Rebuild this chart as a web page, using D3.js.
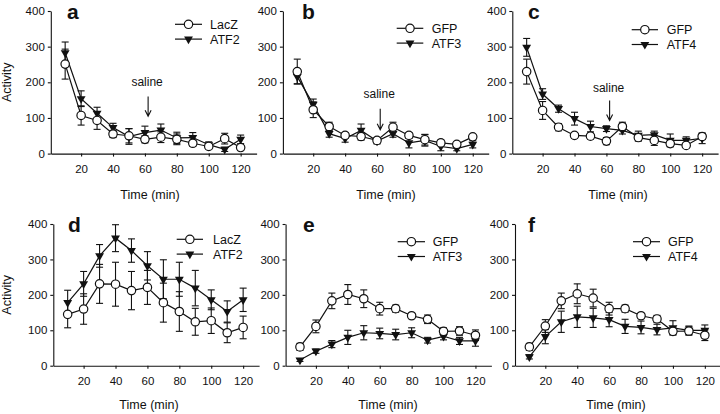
<!DOCTYPE html>
<html>
<head>
<meta charset="utf-8">
<script src="https://cdn.jsdelivr.net/npm/d3@7"></script>
<style>
  body { margin: 0; background: #fff; }
  text { font-family: Arial, "Liberation Sans", sans-serif; fill: #111; }
</style>
</head>
<body>
<svg id="chart" width="720" height="414"></svg>
<script>
// time points (min)
const times = [10, 20, 30, 40, 50, 60, 70, 80, 90, 100, 110, 120];
const xTicks = [20, 40, 60, 80, 100, 120];
const yTicks = [0, 100, 200, 300, 400];

// panel a: LacZ vs ATF2, saline
const aLacZ = [251, 107, 93, 55, 50, 40, 46, 40, 29, 20, 42, 17];
const aLacZErr = [42, 27, 25, 10, 20, 10, 15, 15, 8, 6, 15, 6];
const aATF2 = [283, 154, 113, 73, 48, 59, 66, 44, 45, 25, 12, 40];
const aATF2Err = [30, 22, 17, 12, 22, 18, 17, 16, 14, 8, 6, 12];

// panel b: GFP vs ATF3, saline
const bGFP = [230, 123, 76, 51, 48, 37, 74, 51, 39, 30, 26, 47];
const bGFPErr = [35, 22, 12, 8, 10, 8, 14, 8, 15, 8, 6, 6];
const bATF3 = [216, 138, 56, 42, 65, 35, 56, 30, 37, 20, 14, 26];
const bATF3Err = [20, 15, 10, 10, 18, 8, 10, 14, 16, 12, 6, 10];

// panel c: GFP vs ATF4, saline
const cGFP = [230, 121, 74, 51, 49, 35, 76, 45, 37, 28, 23, 48];
const cGFPErr = [35, 25, 10, 8, 8, 10, 12, 10, 14, 8, 6, 8];
const cATF4 = [298, 167, 126, 98, 76, 70, 65, 51, 53, 37, 37, 43];
const cATF4Err = [25, 15, 10, 18, 15, 8, 10, 12, 10, 18, 10, 15];

// panel d: LacZ vs ATF2
const dLacZ = [145, 160, 231, 230, 212, 221, 178, 153, 124, 127, 93, 108];
const dLacZErr = [38, 43, 55, 62, 54, 48, 55, 56, 38, 36, 28, 32];
const dATF2 = [178, 231, 310, 360, 325, 282, 244, 244, 219, 186, 153, 186];
const dATF2Err = [35, 35, 32, 38, 33, 40, 55, 48, 50, 28, 30, 33];

// panel e: GFP vs ATF3
const eGFP = [53, 111, 183, 201, 189, 161, 161, 141, 131, 97, 98, 86];
const eGFPErr = [10, 18, 22, 28, 25, 18, 10, 6, 12, 10, 12, 15];
const eATF3 = [16, 41, 61, 80, 93, 91, 88, 93, 72, 83, 70, 70];
const eATF3Err = [4, 6, 10, 20, 20, 15, 15, 14, 8, 10, 10, 15];

// panel f: GFP vs ATF4
const fGFP = [53, 112, 183, 203, 191, 161, 161, 141, 132, 97, 98, 86];
const fGFPErr = [10, 18, 22, 28, 25, 18, 10, 6, 10, 10, 12, 15];
const fATF4 = [25, 82, 124, 138, 135, 130, 111, 108, 102, 107, 100, 100];
const fATF4Err = [6, 20, 30, 30, 27, 20, 20, 18, 15, 20, 12, 15];

const svg = d3.select('#chart');

// layout for each panel (pixels)
const rows = [{ bottom: 153.6, top: 11, timeY: 199 }, { bottom: 365.7, top: 224, timeY: 409 }];

const panels = [
    { letter: 'a', row: 0, x0: 49.2, ctrl: aLacZ, ctrlErr: aLacZErr, atf: aATF2, atfErr: aATF2Err,
      names: ['LacZ', 'ATF2'], ylabel: true, timeX: 150, letterX: 67,
      legend: { x1: 175, x2: 202, y: 24.3, tx: 210 }, saline: { tip: 105, top: 160, text: 190 } },
    { letter: 'b', row: 0, x0: 281.3, ctrl: bGFP, ctrlErr: bGFPErr, atf: bATF3, atfErr: bATF3Err,
      names: ['GFP', 'ATF3'], ylabel: false, timeX: 386, letterX: 302,
      legend: { x1: 396.7, x2: 423.3, y: 28.3, tx: 431.7 }, saline: { tip: 67, top: 126, text: 157 } },
    { letter: 'c', row: 0, x0: 510.7, ctrl: cGFP, ctrlErr: cGFPErr, atf: cATF4, atfErr: cATF4Err,
      names: ['GFP', 'ATF4'], ylabel: false, timeX: 618, letterX: 528,
      legend: { x1: 631.7, x2: 658, y: 29.7, tx: 666.7 }, saline: { tip: 93, top: 149, text: 172 } },
    { letter: 'd', row: 1, x0: 51.7, ctrl: dLacZ, ctrlErr: dLacZErr, atf: dATF2, atfErr: dATF2Err,
      names: ['LacZ', 'ATF2'], ylabel: true, timeX: 149, letterX: 68,
      legend: { x1: 176.7, x2: 203, y: 239.3, tx: 213 } },
    { letter: 'e', row: 1, x0: 284, ctrl: eGFP, ctrlErr: eGFPErr, atf: eATF3, atfErr: eATF3Err,
      names: ['GFP', 'ATF3'], ylabel: false, timeX: 388, letterX: 303,
      legend: { x1: 397.7, x2: 425, y: 241.7, tx: 432.7 } },
    { letter: 'f', row: 1, x0: 513.4, ctrl: fGFP, ctrlErr: fGFPErr, atf: fATF4, atfErr: fATF4Err,
      names: ['GFP', 'ATF4'], ylabel: false, timeX: 616, letterX: 528,
      legend: { x1: 633, x2: 660, y: 241.7, tx: 668 } }
];

const triangle = d3.symbol().type(d3.symbolTriangle).size(34);

function drawMarker(g, kind, cx, cy) {
    if (kind === 'circle') {
        g.append('circle').attr('cx', cx).attr('cy', cy).attr('r', 4.2)
            .attr('fill', '#fff').attr('stroke', '#111').attr('stroke-width', 1.2);
    } else {
        g.append('path').attr('d', triangle)
            .attr('transform', `translate(${cx},${cy}) rotate(180)`)
            .attr('fill', '#111');
    }
}

panels.forEach(p => {
    let row = rows[p.row];
    let x = d3.scaleLinear().domain([1, 130]).range([p.x0 + 1.6, p.x0 + 207.4]);
    let y = d3.scaleLinear().domain([0, 400]).range([row.bottom, row.top]);

    let g = svg.append('g');

    g.append('g')
        .attr('transform', `translate(0,${row.bottom})`)
        .call(d3.axisBottom(x).tickValues(xTicks).tickSize(3).tickSizeOuter(0).tickPadding(8.5))
        .call(a => a.selectAll('text').attr('font-size', 11.5).attr('fill', '#111'))
        .call(a => a.selectAll('line,path').attr('stroke', '#111').attr('stroke-width', 1.1));

    g.append('g')
        .attr('transform', `translate(${x(1)},0)`)
        .call(d3.axisLeft(y).tickValues(yTicks).tickSize(3).tickSizeOuter(0).tickPadding(3))
        .call(a => a.selectAll('text').attr('font-size', 11.5).attr('fill', '#111'))
        .call(a => a.selectAll('line,path').attr('stroke', '#111').attr('stroke-width', 1.1));

    g.selectAll('text').attr('font-family', 'Arial, "Liberation Sans", sans-serif');

    // panel letter
    g.append('text').attr('x', p.letterX).attr('y', row.top + 8)
        .attr('font-size', 21).attr('font-weight', 'bold').text(p.letter);

    // axis titles
    g.append('text').attr('x', p.timeX).attr('y', row.timeY)
        .attr('text-anchor', 'middle').attr('font-size', 12.5).text('Time (min)');
    if (p.ylabel) {
        g.append('text')
            .attr('transform', `translate(11,${(row.bottom + row.top) / 2}) rotate(-90)`)
            .attr('text-anchor', 'middle').attr('font-size', 12.5).text('Activity');
    }

    // series
    let series = [
        { vals: p.atf, err: p.atfErr, kind: 'tri' },
        { vals: p.ctrl, err: p.ctrlErr, kind: 'circle' }
    ];
    let line = d3.line().x((d, i) => x(times[i])).y(d => y(d));

    series.forEach(s => {
        let eb = g.append('g').attr('stroke', '#111').attr('stroke-width', 1.1);
        s.vals.forEach((v, i) => {
            let cx = x(times[i]);
            eb.append('line').attr('x1', cx).attr('x2', cx).attr('y1', y(v - s.err[i])).attr('y2', y(v + s.err[i]));
            eb.append('line').attr('x1', cx - 3.5).attr('x2', cx + 3.5).attr('y1', y(v + s.err[i])).attr('y2', y(v + s.err[i]));
            eb.append('line').attr('x1', cx - 3.5).attr('x2', cx + 3.5).attr('y1', y(v - s.err[i])).attr('y2', y(v - s.err[i]));
        });
    });
    series.forEach(s => {
        g.append('path').attr('d', line(s.vals)).attr('fill', 'none')
            .attr('stroke', '#111').attr('stroke-width', 1.2);
    });
    series.forEach(s => {
        s.vals.forEach((v, i) => drawMarker(g, s.kind, x(times[i]), y(v)));
    });

    // legend
    let lg = p.legend;
    [{ name: p.names[0], kind: 'circle' }, { name: p.names[1], kind: 'tri' }].forEach((item, k) => {
        let ly = lg.y + k * 14.8;
        g.append('line').attr('x1', lg.x1).attr('x2', lg.x2).attr('y1', ly).attr('y2', ly)
            .attr('stroke', '#111').attr('stroke-width', 1.2);
        drawMarker(g, item.kind, (lg.x1 + lg.x2) / 2, ly);
        g.append('text').attr('x', lg.tx).attr('y', ly).attr('dy', '0.36em')
            .attr('font-size', 12.5).text(item.name);
    });

    // saline arrow
    if (p.saline) {
        let ax = x(62);
        let tipY = y(p.saline.tip);
        g.append('path')
            .attr('d', `M${ax},${y(p.saline.top)}V${tipY}M${ax - 3},${tipY - 6}L${ax},${tipY}L${ax + 3},${tipY - 6}`)
            .attr('fill', 'none').attr('stroke', '#111').attr('stroke-width', 1.1);
        g.append('text').attr('x', ax - 1).attr('y', y(p.saline.text))
            .attr('text-anchor', 'middle').attr('font-size', 12).text('saline');
    }
});
</script>
</body>
</html>
